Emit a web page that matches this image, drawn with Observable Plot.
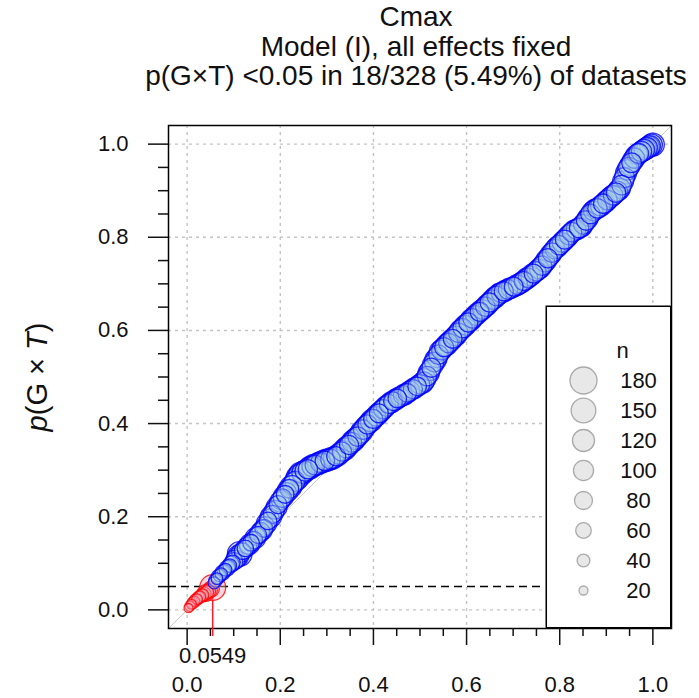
<!DOCTYPE html>
<html><head><meta charset="utf-8">
<script src="https://cdn.jsdelivr.net/npm/d3@7"></script>
<script src="https://cdn.jsdelivr.net/npm/@observablehq/plot@0.6"></script>
<style>
body{margin:0;background:#fff;font-family:"Liberation Sans",Arial,sans-serif;}
#wrap{position:relative;width:699px;height:698px;overflow:hidden;}
#title{position:absolute;left:416px;top:2px;transform:translateX(-50%);text-align:center;white-space:nowrap;font-size:28px;line-height:29.5px;color:#111;}
#legend{position:absolute;left:545px;top:305px;}
</style></head><body>
<div id="wrap"><div id="chart"></div><div id="title"></div><div id="legend"></div></div>
<script>
// ---- texts ----
const titleLines = ["Cmax", "Model (I), all effects fixed", "p(G\u00d7T) <0.05 in 18/328 (5.49%) of datasets"];
// ---- data: sorted p-values (y) of 328 datasets, and dataset sizes n ----
const pval = [
 0.004,0.008,0.012,0.015,0.018,0.021,0.023,0.026,0.028,0.030,0.032,0.034,0.036,0.038,0.040,0.042,0.045,0.048,
 0.058,0.063,0.067,0.071,0.074,0.077,0.080,0.083,0.086,0.089,0.092,0.095,0.098,0.101,0.104,0.108,0.112,0.116,0.120,
 0.123,0.126,0.129,0.132,0.135,0.138,0.141,0.144,0.147,0.150,0.154,0.158,0.161,0.165,0.168,0.171,0.175,
 0.180,0.186,0.191,0.196,0.200,0.205,0.210,0.215,0.220,0.226,0.232,
 0.236,0.240,0.244,0.248,0.252,0.256,0.260,0.264,0.268,0.272,0.276,0.280,0.285,0.290,
 0.292,0.294,0.296,0.298,0.300,0.302,0.304,0.306,0.308,0.310,0.311,0.312,0.314,0.315,0.316,0.318,
 0.319,0.320,0.321,0.322,0.323,0.324,0.325,0.326,0.328,0.330,0.332,0.334,0.337,0.340,0.342,0.345,
 0.348,0.351,0.354,0.357,0.360,0.363,0.366,0.369,0.372,0.375,0.379,0.383,0.387,0.391,0.395,
 0.398,0.401,0.404,0.407,0.410,0.413,0.416,0.419,0.422,0.425,0.428,0.431,0.434,0.437,0.440,
 0.442,0.444,0.446,0.448,0.450,0.452,0.454,0.456,0.457,0.459,0.461,0.462,0.464,0.466,0.468,0.470,
 0.472,0.474,0.476,0.478,0.480,0.482,0.484,0.486,0.488,0.490,
 0.496,0.502,0.508,0.514,0.520,0.526,0.532,0.537,0.542,0.548,0.555,
 0.558,0.561,0.564,0.567,0.570,0.573,0.576,0.579,0.582,0.585,0.588,0.591,0.595,0.600,
 0.602,0.605,0.608,0.611,0.614,0.617,0.620,0.623,0.626,0.629,0.632,0.635,0.638,0.640,0.643,
 0.645,0.648,0.651,0.654,0.657,0.660,0.663,0.666,0.669,0.671,0.674,0.677,0.679,
 0.681,0.682,0.684,0.685,0.687,0.688,0.690,0.691,0.692,0.694,0.695,0.697,0.698,0.700,
 0.702,0.704,0.706,0.708,0.711,0.713,0.715,0.717,0.720,0.722,0.725,0.727,0.730,0.732,0.735,
 0.739,0.743,0.747,0.751,0.755,0.759,0.763,0.767,0.771,0.775,0.778,
 0.780,0.783,0.786,0.789,0.792,0.795,0.798,0.801,0.805,0.808,0.811,0.814,
 0.815,0.817,0.818,0.820,0.821,0.824,0.828,0.832,0.836,0.840,
 0.845,0.850,0.854,0.857,0.859,0.861,0.862,
 0.864,0.867,0.869,0.872,0.874,0.877,0.880,0.883,0.886,
 0.888,0.890,0.893,0.896,0.899,0.902,0.905,
 0.912,0.920,0.928,0.937,0.945,
 0.950,0.955,0.960,0.965,0.970,0.974,0.978,
 0.980,0.982,0.984,0.986,0.988,0.990,0.992,0.994,0.996,0.998,0.999
];
const sizeN = [
 20,26,24,34,30,38,28,40,34,44,36,48,70,42,50,56,64,165,
 36,44,34,50,42,38,56,46,40,60,52,46,66,58,76,88,96,110,150,
 90,70,84,66,92,76,100,68,86,74,104,80,72,94,82,98,78,
 86,102,76,94,112,82,100,88,108,80,96,
 92,84,104,78,98,110,86,118,94,106,100,122,130,114,
 136,106,124,98,116,92,110,128,102,120,96,114,104,122,98,112,
 118,94,126,104,114,96,122,100,108,90,116,98,110,92,104,120,
 98,114,90,108,96,120,102,112,94,106,98,118,96,108,102,
 92,106,98,116,90,102,96,112,88,108,100,92,106,96,102,
 90,100,110,88,96,106,84,102,94,100,90,110,96,86,102,94,
 100,90,106,96,86,102,94,100,110,96,
 102,94,112,100,90,106,96,116,102,94,108,
 96,106,90,102,112,94,100,108,88,102,96,106,94,100,
 102,94,108,96,106,90,100,112,94,102,96,108,100,90,106,
 96,102,94,108,100,90,106,96,102,112,94,100,106,
 96,102,90,108,100,94,106,96,102,88,100,108,94,102,
 96,106,90,100,108,94,102,96,106,88,100,94,102,96,106,
 94,102,96,108,90,100,106,94,102,96,100,
 106,94,102,96,108,90,100,106,96,102,94,100,
 102,96,106,94,100,108,96,102,94,106,
 100,94,102,96,106,100,94,
 102,96,106,94,100,108,96,102,100,
 106,96,102,94,100,108,102,
 96,106,100,108,102,
 100,106,96,108,102,112,104,
 98,108,102,110,104,112,106,114,108,118,130
];
const nDatasets = 328;
const alpha = 0.05;
const majorTicks = [0, 0.2, 0.4, 0.6, 0.8, 1.0];
const minorTicks = [0.05,0.1,0.15,0.25,0.3,0.35,0.45,0.5,0.55,0.65,0.7,0.75,0.85,0.9,0.95];
const legendN = [180, 150, 120, 100, 80, 60, 40, 20];
const axisDomain = [-0.04, 1.04];

// ---- build rows ----
const rows = pval.map((p, i) => ({x: (i + 1) / nDatasets, y: p, n: sizeN[i]}));
const sig = rows.filter(d => d.y < alpha);
const nonsig = rows.filter(d => d.y >= alpha);
const lastSig = sig[sig.length - 1];
const rScale = {type: "sqrt", domain: [0, 180], range: [0, 13.5]};

document.getElementById("title").innerHTML = titleLines.map(s => s.replace(/</g, "&lt;")).join("<br>");

const fmt1 = d3.format(".1f");
const chart = Plot.plot({
  width: 699, height: 698,
  marginLeft: 168, marginRight: 28, marginTop: 125, marginBottom: 70,
  style: {fontFamily: "'Liberation Sans', Arial, sans-serif", fontSize: "22px", color: "#111", background: "#fff"},
  x: {domain: axisDomain},
  y: {domain: axisDomain},
  r: rScale,
  marks: [
    Plot.gridX({ticks: majorTicks, stroke: "#c4c4c4", strokeOpacity: 1, strokeWidth: 1.4, strokeDasharray: "3,4"}),
    Plot.gridY({ticks: majorTicks, stroke: "#c4c4c4", strokeOpacity: 1, strokeWidth: 1.4, strokeDasharray: "3,4"}),
    Plot.line(axisDomain, {x: d => d, y: d => d, stroke: "#c8c8c8", strokeWidth: 1}),
    Plot.ruleY([alpha], {stroke: "#000", strokeWidth: 1.5, strokeDasharray: "8,5"}),
    Plot.ruleX([lastSig], {x: "x", y1: axisDomain[0], y2: "y", stroke: "#ff1a2e", strokeWidth: 1.5}),
    Plot.dot(sig, {x: "x", y: "y", r: "n", fill: "#f7a8bc", fillOpacity: 0.45, stroke: "#ff0000", strokeOpacity: 0.8, strokeWidth: 1.3}),
    Plot.dot(nonsig, {x: "x", y: "y", r: "n", fill: "#add8e6", fillOpacity: 0.35, stroke: "#0000ff", strokeOpacity: 0.8, strokeWidth: 1.3}),
    Plot.frame({stroke: "#000", strokeWidth: 1.5}),
    Plot.axisY({ticks: majorTicks, tickSize: 20, tickPadding: 20, tickFormat: fmt1, strokeWidth: 1.5, label: null}),
    Plot.axisY({ticks: minorTicks, tickSize: 10, tickFormat: null, text: null, strokeWidth: 1.5, label: null}),
    Plot.axisX({ticks: majorTicks, tickSize: 17, tickPadding: 31, tickFormat: fmt1, strokeWidth: 1.5, label: null}),
    Plot.axisX({ticks: minorTicks, tickSize: 8, tickFormat: null, text: null, strokeWidth: 1.5, label: null}),
    Plot.axisX({ticks: [lastSig.x], tickSize: 8, tickPadding: 11, tickFormat: d3.format(".4f"), stroke: "#ff1a2e", fill: "#111", strokeWidth: 1.5, label: null})
  ]
});
document.getElementById("chart").appendChild(chart);

// y-axis title with italic p and T
const svg = d3.select(chart);
const yt = svg.append("text")
  .attr("transform", "translate(37,377) rotate(-90)")
  .attr("text-anchor", "middle").attr("dy", "0.35em")
  .style("font-size", "29px").attr("fill", "#111");
yt.append("tspan").style("font-style", "italic").text("p");
yt.append("tspan").text("(G \u00d7 ");
yt.append("tspan").style("font-style", "italic").text("T");
yt.append("tspan").text(")");

// legend
const legendKeys = ["n", ...legendN.map(String)];
const legend = Plot.plot({
  width: 126, height: 323,
  marginLeft: 0.75, marginRight: 0.75, marginTop: 0.75, marginBottom: 0.75,
  style: {fontFamily: "'Liberation Sans', Arial, sans-serif", fontSize: "22px", color: "#111", background: "#fff"},
  x: {domain: [0, 1], range: [38, 93], axis: null},
  y: {type: "point", domain: legendKeys, range: [27, 303], axis: null},
  r: rScale,
  marks: [
    Plot.frame({stroke: "#000", strokeWidth: 1.5}),
    Plot.dot(legendN, {x: () => 0, y: d => String(d), r: d => d, fill: "#e8e8e8", stroke: "#aaaaaa", strokeWidth: 1.3}),
    Plot.text(legendN, {x: () => 1, y: d => String(d), text: d => String(d), fill: "#111"}),
    Plot.text(["n"], {x: () => 1, y: d => d, text: d => d, dx: -16, fill: "#111"})
  ]
});
document.getElementById("legend").appendChild(legend);
</script>
</body></html>
